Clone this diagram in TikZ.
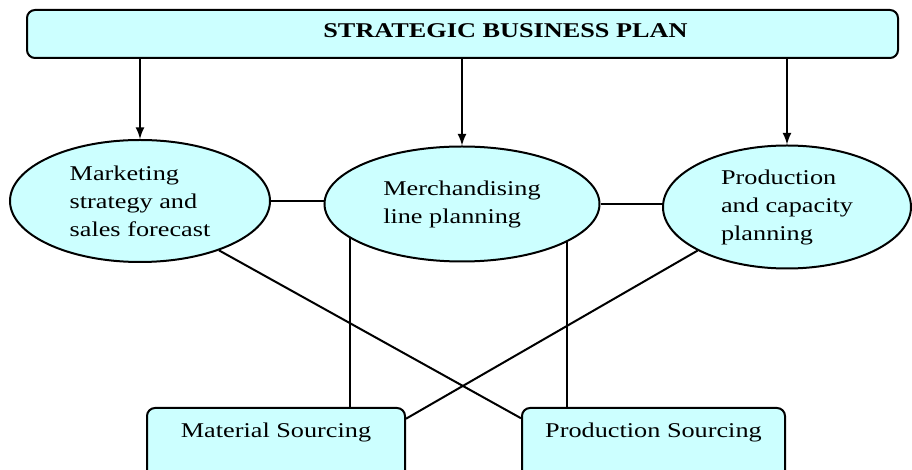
\documentclass[tikz,border=0pt]{standalone}
\usepackage{fontspec}
\setmainfont[FakeStretch=1.25]{Liberation Serif}
\usetikzlibrary{arrows.meta, shapes}

\definecolor{planfill}{HTML}{CCFFFF}

\begin{document}
\begin{tikzpicture}[x=0.5pt, y=-0.5pt, line width=1pt]

		\tikzstyle{plan}=[rectangle, rounded corners=4pt, fill=planfill, draw, font=\fontsize{10.5}{13}\selectfont\bfseries, minimum width=435.5pt, minimum height=24pt, text depth=3pt]
		\tikzstyle{area}=[ellipse, fill=planfill, draw, align=left, inner sep=0pt, font=\fontsize{10.5}{14}\selectfont]
		\tikzstyle{sourcing}=[rectangle, rounded corners=4pt, fill=planfill, draw, font=\fontsize{10.5}{13}\selectfont, minimum width=129pt, minimum height=36pt, text depth=14pt]

		\clip (0,0) rectangle (912,470);

		\node[plan] (sbp) at (462.5,34) {\hspace*{43pt}STRATEGIC BUSINESS PLAN};

		\node[area, minimum width=130pt, minimum height=61pt] (mkt) at (140,201) {Marketing\\strategy and\\sales forecast};
		\node[area, minimum width=137.5pt, minimum height=57.5pt] (merch) at (462,204) {Merchandising\\line planning};
		\node[area, minimum width=124pt, minimum height=61.5pt] (prod) at (787,207) {Production\\and capacity\\planning};

		\node[sourcing] (mat) at (276,444) {Material Sourcing};
		\node[sourcing, minimum width=131.5pt] (prodsrc) at (653.5,444) {Production Sourcing};

		% plan down to the three planning areas
		\draw[-latex] (mkt.north |- sbp.south) -- (mkt.north);
		\draw[-latex] (merch.north |- sbp.south) -- (merch.north);
		\draw[-latex] (prod.north |- sbp.south) -- (prod.north);

		% links between the areas
		\draw (mkt.east) -- (merch.west |- mkt.east);
		\draw (merch.east) -- (prod.west |- merch.east);

		% links to sourcing
		\draw (merch.197) -- (merch.197 |- mat.north);
		\draw (merch.340) -- (merch.340 |- prodsrc.north);
		\draw (mkt.328) -- (prodsrc.169);
		\draw (prod.206) -- (mat.11);
\end{tikzpicture}
\end{document}
